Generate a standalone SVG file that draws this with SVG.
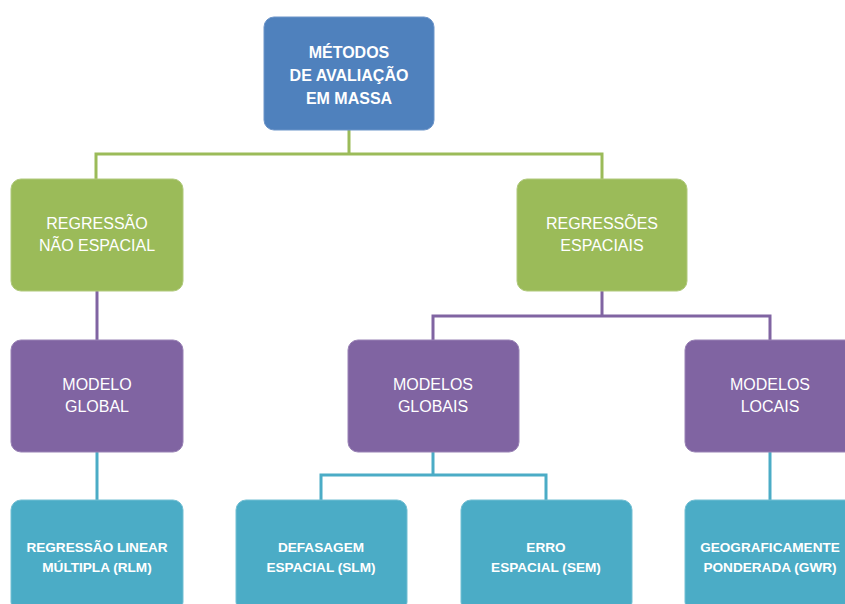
<svg xmlns="http://www.w3.org/2000/svg" width="845" height="604" viewBox="0 0 845 604">
<style>
.box{stroke-width:1}
.blue{fill:#4F81BD;stroke:#6d95c9}
.green{fill:#9BBB59;stroke:#b0c97c}
.purple{fill:#8064A2;stroke:#9982b5}
.teal{fill:#4BACC6;stroke:#73bfd3}
text{font-family:"Liberation Sans",Arial,sans-serif;fill:#ffffff;text-anchor:middle}
.b16{font-size:16px;font-weight:bold}
.r16{font-size:16px}
.b14{font-size:13.6px;font-weight:bold}
.cg{stroke:#9BBB59;stroke-width:3;fill:none}
.cp{stroke:#8064A2;stroke-width:3;fill:none}
.ct{stroke:#4BACC6;stroke-width:3;fill:none}
</style>
<rect width="845" height="604" fill="#ffffff"/>
<g id="connectors">
<path class="cg" d="M349,130 V154 M96,179 V154 H602 V179"/>
<path class="cp" d="M97,291 V340"/>
<path class="cp" d="M602,291 V316 M433,340 V316 H770 V340"/>
<path class="ct" d="M97,452 V500"/>
<path class="ct" d="M433,452 V475 M321,500 V475 H546 V500"/>
<path class="ct" d="M770,452 V500"/>
</g>
<g id="metodos">
<rect class="box blue" x="264" y="17" width="170" height="113" rx="10"/>
<text class="b16" x="349" y="58">MÉTODOS</text>
<text class="b16" x="349" y="81">DE AVALIAÇÃO</text>
<text class="b16" x="349" y="104">EM MASSA</text>
</g>
<g id="regressao-nao-espacial">
<rect class="box green" x="11" y="179" width="172" height="112" rx="10"/>
<text class="r16" x="97" y="229">REGRESSÃO</text>
<text class="r16" x="97" y="251">NÃO ESPACIAL</text>
</g>
<g id="regressoes-espaciais">
<rect class="box green" x="517" y="179" width="170" height="112" rx="10"/>
<text class="r16" x="602" y="229">REGRESSÕES</text>
<text class="r16" x="602" y="251">ESPACIAIS</text>
</g>
<g id="modelo-global">
<rect class="box purple" x="11" y="340" width="172" height="112" rx="10"/>
<text class="r16" x="97" y="390">MODELO</text>
<text class="r16" x="97" y="412">GLOBAL</text>
</g>
<g id="modelos-globais">
<rect class="box purple" x="348" y="340" width="171" height="112" rx="10"/>
<text class="r16" x="433" y="390">MODELOS</text>
<text class="r16" x="433" y="412">GLOBAIS</text>
</g>
<g id="modelos-locais">
<rect class="box purple" x="685" y="340" width="171" height="112" rx="10"/>
<text class="r16" x="770" y="390">MODELOS</text>
<text class="r16" x="770" y="412">LOCAIS</text>
</g>
<g id="rlm">
<rect class="box teal" x="11" y="500" width="172" height="112" rx="10"/>
<text class="b14" x="97" y="552">REGRESSÃO LINEAR</text>
<text class="b14" x="97" y="572">MÚLTIPLA (RLM)</text>
</g>
<g id="slm">
<rect class="box teal" x="236" y="500" width="171" height="112" rx="10"/>
<text class="b14" x="321" y="552">DEFASAGEM</text>
<text class="b14" x="321" y="572">ESPACIAL (SLM)</text>
</g>
<g id="sem">
<rect class="box teal" x="461" y="500" width="171" height="112" rx="10"/>
<text class="b14" x="546" y="552">ERRO</text>
<text class="b14" x="546" y="572">ESPACIAL (SEM)</text>
</g>
<g id="gwr">
<rect class="box teal" x="685" y="500" width="171" height="112" rx="10"/>
<text class="b14" x="770" y="552">GEOGRAFICAMENTE</text>
<text class="b14" x="770" y="572">PONDERADA (GWR)</text>
</g>
</svg>
